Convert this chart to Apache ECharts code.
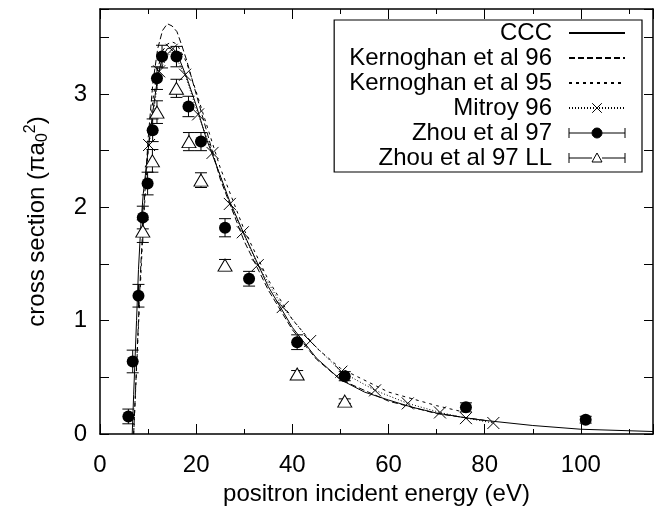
<!DOCTYPE html>
<html>
<head>
<meta charset="utf-8">
<script src="https://cdn.jsdelivr.net/npm/echarts@6/dist/echarts.min.js"></script>
<style>html,body{margin:0;padding:0;background:#fff}#c{width:664px;height:510px}</style>
</head>
<body>
<div id="c"></div>
<script>
// ---- data ----
const cccX = [6.7, 7.0, 7.6, 8.0, 8.5, 9.0, 10.0, 11.0, 12.0, 13.0, 14.0, 15.0, 16.0, 18.0, 20.0, 22.0, 25.0, 27.0, 30.0, 35.0, 40.0, 45.0, 50.0, 55.0, 60.0, 65.0, 70.0, 76.0, 80.0, 90.0, 100.0, 115.0];
const cccY = [0.0, 0.35, 1.0, 1.45, 1.85, 2.12, 2.5, 2.85, 3.15, 3.33, 3.4, 3.41, 3.36, 3.15, 2.9, 2.62, 2.28, 2.05, 1.76, 1.3, 0.94, 0.67, 0.48, 0.37, 0.3, 0.235, 0.185, 0.143, 0.12, 0.075, 0.042, 0.022];

const k96X = [7.0, 7.5, 8.0, 8.5, 9.0, 10.0, 11.0, 12.0, 13.0, 14.0, 15.0, 16.0, 17.0, 18.0, 20.0, 25.0, 30.0, 35.0, 40.0, 45.0, 50.0, 60.0, 70.0, 80.0];
const k96Y = [0.0, 0.5, 1.0, 1.5, 1.9, 2.6, 3.1, 3.4, 3.56, 3.62, 3.6, 3.55, 3.43, 3.3, 3.0, 2.25, 1.7, 1.27, 0.92, 0.66, 0.48, 0.29, 0.18, 0.12];

const k95X = [7.0, 8.0, 9.0, 10.0, 11.0, 12.0, 13.0, 14.0, 15.0, 16.0, 18.0, 20.0, 25.0, 30.0, 35.0, 40.0, 45.0, 50.0, 60.0, 70.0, 76.0];
const k95Y = [0.0, 0.95, 1.85, 2.5, 2.95, 3.22, 3.38, 3.44, 3.46, 3.44, 3.28, 3.02, 2.35, 1.8, 1.36, 1.01, 0.76, 0.58, 0.37, 0.25, 0.19];

const mitroyX = [10.2, 12.3, 14.9, 17.7, 20.4, 23.4, 27.0, 29.7, 32.8, 38.0, 43.7, 50.2, 57.2, 64.0, 70.7, 76.1, 81.8];
const mitroyY = [2.55, 3.2, 3.39, 3.17, 2.82, 2.48, 2.03, 1.78, 1.49, 1.12, 0.82, 0.55, 0.385, 0.27, 0.19, 0.14, 0.097];

const zhouX = [5.9, 6.8, 8.0, 8.9, 9.9, 10.95, 11.85, 12.9, 15.9, 18.4, 21.0, 26.0, 31.0, 41.0, 50.9, 76.1, 101.0];
const zhouY = [0.155, 0.64, 1.22, 1.91, 2.21, 2.68, 3.14, 3.33, 3.33, 2.89, 2.58, 1.82, 1.37, 0.81, 0.51, 0.235, 0.126];
const zhouErr = [0.065, 0.1, 0.1, 0.1, 0.1, 0.1, 0.1, 0.1, 0.09, 0.09, 0.08, 0.08, 0.065, 0.065, 0.04, 0.04, 0.03];

const zhouLLX = [8.9, 10.9, 11.85, 15.9, 18.5, 21.0, 26.0, 41.0, 50.9];
const zhouLLY = [1.79, 2.41, 2.84, 3.05, 2.58, 2.24, 1.49, 0.53, 0.29];
const zhouLLErr = [0.1, 0.1, 0.1, 0.08, 0.08, 0.065, 0.05, 0.03, 0.02];

const xTicks = [0, 20, 40, 60, 80, 100];
const yTicks = [0, 1, 2, 3];

// ---- helpers ----
const pairs = (xs, ys) => xs.map((x, i) => [x, ys[i]]);
const errRows = (xs, ys, es) => xs.map((x, i) => [x, ys[i] - es[i], ys[i] + es[i]]);
const FONT = 'Liberation Sans';
const BLACK = '#000';
const CLEAR = 'rgba(0,0,0,0)';

function errorBarItem(params, api) {
  const x = api.value(0);
  const lo = api.coord([x, api.value(1)]);
  const hi = api.coord([x, api.value(2)]);
  const w = 6;
  const st = { stroke: BLACK, lineWidth: 1 };
  return {
    type: 'group',
    children: [
      { type: 'line', shape: { x1: lo[0], y1: lo[1], x2: hi[0], y2: hi[1] }, style: st },
      { type: 'line', shape: { x1: lo[0] - w, y1: lo[1], x2: lo[0] + w, y2: lo[1] }, style: st },
      { type: 'line', shape: { x1: hi[0] - w, y1: hi[1], x2: hi[0] + w, y2: hi[1] }, style: st }
    ]
  };
}

const XMIN = 0, XMAX = 115, YMIN = 0, YMAX = 3.75;
const axisLine = { show: true, onZero: false, lineStyle: { color: BLACK, width: 1.5 } };
const noLine = { show: false, onZero: false };

function xAx(pos, interval, tickLen, labels, line) {
  return {
    type: 'value', position: pos, min: XMIN, max: XMAX, interval: interval,
    axisLine: line ? axisLine : noLine,
    axisTick: { show: true, inside: true, length: tickLen, lineStyle: { color: BLACK, width: 1 } },
    splitLine: { show: false },
    axisLabel: labels ? {
      show: true, color: BLACK, fontSize: 24, fontFamily: FONT, margin: 19,
      formatter: v => (xTicks.indexOf(v) >= 0 ? String(v) : '')
    } : { show: false }
  };
}
function yAx(pos, labels) {
  return {
    type: 'value', position: pos, min: YMIN, max: YMAX, interval: 0.5,
    axisLine: axisLine,
    axisTick: { show: true, inside: true, length: 9, lineStyle: { color: BLACK, width: 1 } },
    splitLine: { show: false },
    axisLabel: labels ? {
      show: true, color: BLACK, fontSize: 24, fontFamily: FONT, margin: 13,
      formatter: v => (yTicks.indexOf(v) >= 0 ? String(v) : '')
    } : { show: false }
  };
}

const xAxes = [
  xAx('bottom', 10, 5, true, true),
  xAx('bottom', 20, 10, false, false),
  xAx('top', 10, 5, false, true),
  xAx('top', 20, 10, false, false)
];
Object.assign(xAxes[0], {
  name: 'positron incident energy (eV)', nameLocation: 'middle', nameGap: 48,
  nameTextStyle: { color: BLACK, fontSize: 24, fontFamily: FONT }
});
const yAxes = [yAx('left', true), yAx('right', false)];
Object.assign(yAxes[0], {
  name: 'cross section (πa{sub|0}{sup|2})', nameLocation: 'middle', nameGap: 49,
  nameTextStyle: {
    color: BLACK, fontSize: 24, fontFamily: FONT,
    rich: {
      sub: { fontSize: 16, fontFamily: FONT, color: BLACK, verticalAlign: 'bottom', padding: [12, 0, 0, 0] },
      sup: { fontSize: 16, fontFamily: FONT, color: BLACK, verticalAlign: 'top', padding: [0, 0, 12, 0] }
    }
  }
});

const lineSeries = (name, xs, ys, type) => ({
  name: name, type: 'line', data: pairs(xs, ys), symbol: 'none', smooth: false,
  lineStyle: { color: BLACK, width: 1, type: type },
  itemStyle: { color: BLACK },
  z: 3, silent: true
});

const crossPath = 'path://M0,0L10,10M10,0L0,10';
const zhouIcon = 'path://M0,1L0,11M0,6L23,6M33,6L56,6M56,1L56,11M28,1A5,5 0 1,0 28.001,1Z';
const zhouLLIcon = 'path://M0,1L0,11M0,6L23,6M33,6L56,6M56,1L56,11M28,1L33,10L23,10Z';
const noSymbol = { color: CLEAR, borderColor: CLEAR, borderWidth: 0, opacity: 1 };

const option = {
  animation: false,
  backgroundColor: '#fff',
  grid: { left: 100, right: 11, top: 9, bottom: 76, containLabel: false, outerBoundsMode: 'none' },
  xAxis: xAxes,
  yAxis: yAxes,
  legend: {
    orient: 'vertical', align: 'right', right: 22, top: 20,
    padding: [1, 16, 2, 15], itemGap: 1, itemWidth: 56, itemHeight: 12,
    backgroundColor: '#fff', borderColor: BLACK, borderWidth: 1.2,
    selectedMode: false,
    formatter: name => name + '{g| }',
    textStyle: {
      color: BLACK, fontSize: 24, fontFamily: FONT, lineHeight: 24,
      rich: { g: { width: 12, fontSize: 24, lineHeight: 24 } }
    },
    data: [
      { name: 'CCC', itemStyle: noSymbol },
      { name: 'Kernoghan et al 96', itemStyle: noSymbol },
      { name: 'Kernoghan et al 95', itemStyle: noSymbol },
      { name: 'Mitroy 96', itemStyle: { color: CLEAR, borderColor: BLACK, borderWidth: 1, opacity: 1 } },
      { name: 'Zhou et al 97', icon: zhouIcon, itemStyle: { color: BLACK, borderColor: BLACK, borderWidth: 1, opacity: 1 } },
      { name: 'Zhou et al 97 LL', icon: zhouLLIcon, itemStyle: { color: '#fff', borderColor: BLACK, borderWidth: 1, opacity: 1 } }
    ]
  },
  series: [
    lineSeries('CCC', cccX, cccY, 'solid'),
    lineSeries('Kernoghan et al 96', k96X, k96Y, [6, 3]),
    lineSeries('Kernoghan et al 95', k95X, k95Y, [3, 4]),
    {
      name: 'Mitroy 96', type: 'line', data: pairs(mitroyX, mitroyY),
      symbol: crossPath, symbolSize: 12,
      lineStyle: { color: BLACK, width: 1, type: [1, 2] },
      itemStyle: { color: CLEAR, borderColor: BLACK, borderWidth: 1 },
      z: 4, silent: true
    },
    {
      name: 'Zhou errors', type: 'custom', renderItem: errorBarItem,
      data: errRows(zhouX, zhouY, zhouErr), encode: { x: 0, y: [1, 2] }, z: 5, silent: true
    },
    {
      name: 'Zhou LL errors', type: 'custom', renderItem: errorBarItem,
      data: errRows(zhouLLX, zhouLLY, zhouLLErr), encode: { x: 0, y: [1, 2] }, z: 5, silent: true
    },
    {
      name: 'Zhou et al 97 LL', type: 'scatter', data: pairs(zhouLLX, zhouLLY),
      symbol: 'triangle', symbolSize: [14, 12],
      itemStyle: { color: '#fff', borderColor: BLACK, borderWidth: 1, opacity: 1 }, z: 6, silent: true
    },
    {
      name: 'Zhou et al 97', type: 'scatter', data: pairs(zhouX, zhouY),
      symbol: 'circle', symbolSize: 12,
      itemStyle: { color: BLACK, opacity: 1 }, z: 7, silent: true
    }
  ]
};

const chart = echarts.init(document.getElementById('c'), null, { renderer: 'canvas' });
chart.setOption(option);
</script>
</body>
</html>
